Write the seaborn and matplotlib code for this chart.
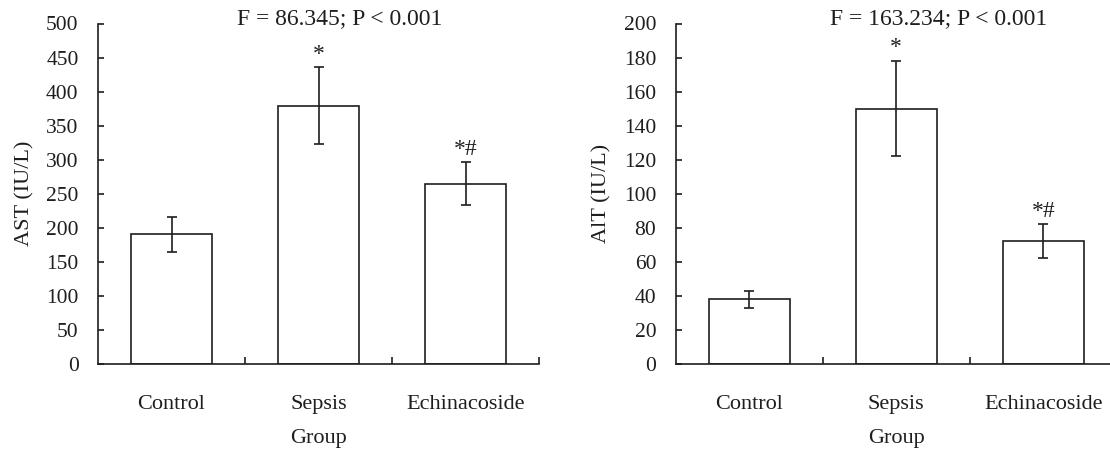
import matplotlib
matplotlib.use("Agg")
import matplotlib.pyplot as plt
import seaborn as sns
import pandas as pd
from matplotlib.ticker import FixedLocator

# ---- data ----
groups = ["Control", "Sepsis", "Echinacoside"]
ast_mean = [190.5, 379.5, 264.5]
ast_err = [25.5, 56, 31.5]
alt_mean = [38, 150, 72]
alt_err = [5, 28, 10]
ast_marks = ["", "*", "*#"]
alt_marks = ["", "*", "*#"]
ast_title = "F = 86.345; P < 0.001"
alt_title = "F = 163.234; P < 0.001"
ast_ylabel = "AST (IU/L)"
alt_ylabel = "AlT (IU/L)"
xlabel = "Group"
ast_ticks = list(range(0, 501, 50))
alt_ticks = list(range(0, 201, 20))

sns.set_theme(style="white")
plt.rcParams["font.family"] = ["Liberation Serif", "DejaVu Serif"]

INK = "#1e1e1e"
fig = plt.figure(figsize=(11.1, 4.55), dpi=100)
ax1 = fig.add_axes([98 / 1110, 91 / 455, 441 / 1110, 340.5 / 455])
ax2 = fig.add_axes([675.7 / 1110, 91 / 455, 441 / 1110, 340.5 / 455])


def panel(ax, means, errs, marks, title, ylabel, ticks, title_x):
    df = pd.DataFrame({"group": groups, "value": means})
    sns.barplot(data=df, x="group", y="value", ax=ax, color="white",
                edgecolor=INK, linewidth=1.2, width=0.55, errorbar=None,
                saturation=1)
    ax.errorbar(range(len(groups)), means, yerr=errs, fmt="none",
                ecolor=INK, elinewidth=1.2, capsize=3.6, capthick=1.2)
    for i, (m, e, t) in enumerate(zip(means, errs, marks)):
        if t:
            ax.annotate(t, xy=(i, m + e), xytext=(0, 2), textcoords="offset points",
                        ha="center", va="bottom", fontsize=17, color=INK)
    ax.set_xlim(-0.5, 2.5)
    ax.set_ylim(ticks[0], ticks[-1])
    ax.set_yticks(ticks)
    ax.set_yticklabels([str(t) for t in ticks])
    ax.xaxis.set_minor_locator(FixedLocator([0.5, 1.5, 2.5]))
    ax.tick_params(axis="x", which="major", length=0, pad=22, labelsize=16, colors=INK)
    ax.tick_params(axis="x", which="minor", direction="in", length=5, width=1.2,
                   color=INK, bottom=True)
    ax.tick_params(axis="y", direction="in", length=4.5, width=1.2, pad=14,
                   labelsize=15.5, colors=INK, left=True)
    for s in ["top", "right"]:
        ax.spines[s].set_visible(False)
    for s in ["left", "bottom"]:
        ax.spines[s].set_color(INK)
        ax.spines[s].set_linewidth(1.2)
    ax.set_xlabel(xlabel, fontsize=16, color=INK)
    ax.xaxis.set_label_coords(0.5, -0.19)
    ax.set_ylabel(ylabel, fontsize=16, color=INK)
    ax.yaxis.set_label_coords(-0.145, 0.5)
    ax.text(title_x, 1.015, title, transform=ax.get_xaxis_transform(),
            ha="center", va="center", fontsize=17, color=INK)
    ax.set_facecolor("white")


panel(ax1, ast_mean, ast_err, ast_marks, ast_title, ast_ylabel, ast_ticks, 1.146)
panel(ax2, alt_mean, alt_err, alt_marks, alt_title, alt_ylabel, alt_ticks, 1.29)

fig.savefig("out.png", dpi=100, facecolor="white")
